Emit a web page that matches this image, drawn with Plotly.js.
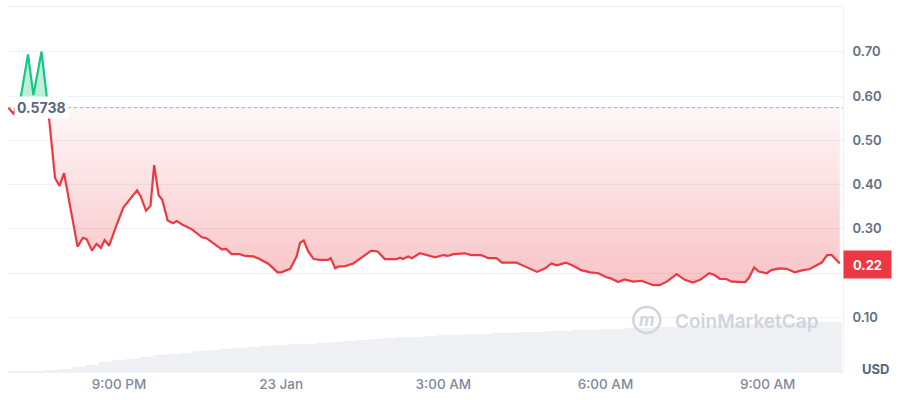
<!DOCTYPE html>
<html>
<head>
<meta charset="utf-8">
<script src="https://cdn.plot.ly/plotly-3.0.1.min.js"></script>
<style>html,body{margin:0;padding:0;background:#fff;}#chart{width:900px;height:400px;}</style>
</head>
<body>
<div id="chart"></div>
<script>
// ---------- data ----------
const startDay = '2025-01-22';
const openPrice = 0.5738;
const lastPrice = 0.22;
const priceClock = ['18:57','19:03','19:11','19:19','19:25','19:34','19:40','19:49','19:54','19:59',
 '20:14','20:20','20:24','20:30','20:35','20:40','20:44','20:49','20:56','21:05',
 '21:20','21:24','21:30','21:35','21:39','21:44','21:48','21:54','22:00','22:04',
 '22:10','22:21','22:32','22:37','22:54','22:59','23:05','23:14','23:20','23:29',
 '23:36','23:46','23:56','00:00','00:10','00:17','00:21','00:25','00:30','00:36',
 '00:43','00:52','00:55','01:00','01:03','01:11','01:20','01:31','01:40','01:47',
 '01:55','02:08','02:12','02:15','02:21','02:25','02:34','02:51','03:00','03:05',
 '03:11','03:24','03:31','03:42','03:50','03:59','04:05','04:21','04:30','04:44',
 '04:53','05:00','05:06','05:16','05:24','05:33','05:43','05:52','06:01','06:05',
 '06:14','06:21','06:31','06:40','06:53','07:00','07:08','07:19','07:28','07:37',
 '07:45','07:55','08:01','08:07','08:14','08:20','08:35','08:39','08:45','08:50',
 '08:59','09:04','09:13','09:21','09:30','09:39','09:46','10:00','10:06','10:11','10:20'];
const priceValues = [0.5738,0.560,0.598,0.694,0.602,0.700,0.598,0.415,0.397,0.426,
 0.260,0.280,0.277,0.251,0.266,0.257,0.275,0.262,0.302,0.349,
 0.387,0.374,0.341,0.352,0.444,0.376,0.366,0.319,0.313,0.318,
 0.310,0.299,0.281,0.279,0.254,0.255,0.243,0.243,0.239,0.238,
 0.232,0.221,0.202,0.202,0.210,0.237,0.269,0.274,0.249,0.232,
 0.230,0.230,0.234,0.211,0.215,0.216,0.222,0.238,0.251,0.249,
 0.232,0.232,0.235,0.232,0.238,0.234,0.245,0.236,0.241,0.239,
 0.243,0.245,0.241,0.241,0.234,0.234,0.224,0.224,0.216,0.203,
 0.211,0.222,0.218,0.224,0.217,0.207,0.202,0.200,0.191,0.189,
 0.180,0.186,0.181,0.183,0.173,0.173,0.181,0.198,0.185,0.179,
 0.185,0.200,0.196,0.187,0.187,0.181,0.180,0.189,0.213,0.204,
 0.200,0.207,0.211,0.210,0.202,0.207,0.209,0.224,0.241,0.241,0.222];
const volumeStart = '2025-01-22T19:00:00Z';
const volumeStepMin = 15;
const volumeValues = [1,1,1.5,2.5,3.5,5,7.5,10,12,13.5,15.5,17,18.5,19.5,21,22,23,24,25,26,
 27,28,28.5,29.5,30.5,31.5,32.5,33.5,34.5,35,35.5,36.5,37,37.5,38,38.5,39,39.5,40,40.5,
 41,41.5,42,42.5,43,43.5,44,44.5,45,45.5,46,46.5,47,47.5,48,48.5,49,49,49.5,50,50,50.5];
const xTickVals = ['2025-01-22 21:00','2025-01-23 00:00','2025-01-23 03:00','2025-01-23 06:00','2025-01-23 09:00'];
const xTickText = ['9:00 PM','23 Jan','3:00 AM','6:00 AM','9:00 AM'];
const yTickVals = [0.1,0.2,0.3,0.4,0.5,0.6,0.7];
const yTickText = ['0.10','','0.30','0.40','0.50','0.60','0.70']; // 0.20 is hidden under the price tag
const xRange = ['2025-01-22 18:56:48','2025-01-23 10:23:36'];
const yRange = [-0.023, 0.801];

// ---------- build ----------
const RED = '#ea3943', GREEN = '#16c784';
let day = Date.parse(startDay + 'T00:00:00Z'), prev = -1;
const t = priceClock.map(c => {
  const [h, m] = c.split(':').map(Number);
  const mins = h * 60 + m;
  if (prev >= 0 && mins < prev) day += 86400000;
  prev = mins;
  return day + mins * 60000;
});
// insert crossing points with the open price line
const X = [], Y = [];
for (let i = 0; i < t.length; i++) {
  if (i > 0) {
    const a = priceValues[i-1] - openPrice, b = priceValues[i] - openPrice;
    if (a * b < 0) {
      const f = a / (a - b);
      X.push(t[i-1] + f * (t[i] - t[i-1])); Y.push(openPrice);
    }
  }
  X.push(t[i]); Y.push(priceValues[i]);
}
const eps = 1e-9;
const redLine = Y.map(v => v <= openPrice + eps ? v : null);
const redPolyX = X.concat([X[X.length-1], X[0]]);
const redPolyY = Y.map(v => Math.min(v, openPrice)).concat([openPrice, openPrice]);
// green part is drawn on an axis whose zero sits at the open price
const greenAbove = Y.map(v => Math.max(v - openPrice, 0));
const greenLineRel = Y.map(v => v >= openPrice - eps ? v - openPrice : null);
const yRangeRel = [yRange[0] - openPrice, yRange[1] - openPrice];

const vt0 = Date.parse(volumeStart);
const volX = volumeValues.map((_, i) => vt0 + i * volumeStepMin * 60000);

const traces = [
  {type:'bar', x: volX, y: volumeValues, yaxis:'y', marker:{color:'#eef0f4', line:{width:0}}, hoverinfo:'skip', width: volumeStepMin*60000},
  {type:'scatter', mode:'lines', x: redPolyX, y: redPolyY, yaxis:'y2', line:{width:0, color:RED}, fill:'toself',
   fillcolor:'rgba(234,57,67,0.15)',
   fillgradient:{type:'vertical', colorscale:[[0,'rgba(234,57,67,0.30)'],[1,'rgba(234,57,67,0.04)']]}, hoverinfo:'skip'},
  {type:'scatter', mode:'lines', x: X, y: redLine, yaxis:'y2', line:{color:RED, width:2.2}, connectgaps:false},
  {type:'scatter', mode:'lines', x: X, y: greenAbove, yaxis:'y3', line:{width:0.5, color:'rgba(22,199,132,0.3)'}, fill:'tozeroy',
   fillcolor:'rgba(22,199,132,0.28)', hoverinfo:'skip'},
  {type:'scatter', mode:'lines', x: X, y: greenLineRel, yaxis:'y3', line:{color:GREEN, width:2.2}, connectgaps:false}
];

const layout = {
  width: 900, height: 400,
  margin: {l: 8, r: 57, t: 7, b: 28, pad: 0},
  paper_bgcolor: '#ffffff', plot_bgcolor: '#ffffff',
  showlegend: false, bargap: 0,
  font: {family: 'Inter, "Noto Sans", sans-serif', color: '#616e85'},
  xaxis: {type:'date', range: xRange, tickvals: xTickVals, ticktext: xTickText, showgrid:false,
          showline:true, linecolor:'#eff2f5', linewidth:1, mirror:true, ticks:'', zeroline:false,
          tickfont:{size:13.5, color:'#808a9d', weight:500}},
  yaxis: {range:[0, 365], visible:false, fixedrange:true},
  yaxis2: {overlaying:'y', side:'right', range: yRange, tickvals: yTickVals, ticktext: yTickText,
           showgrid:true, gridcolor:'#eff2f5', zeroline:false, showline:true, linecolor:'#eff2f5',
           ticks:'', tickfont:{size:13, color:'#616e85', weight:600}, ticklabelstandoff: 6},
  yaxis3: {overlaying:'y', side:'right', range: yRangeRel, visible:false, showgrid:false, zeroline:false},
  shapes: [
    {type:'line', xref:'paper', x0:0, x1:1, yref:'y2', y0:openPrice, y1:openPrice,
     line:{color:'#a6b0c3', width:1, dash:'dot'}},
    {type:'circle', xref:'paper', yref:'paper', xsizemode:'pixel', ysizemode:'pixel',
     xanchor:0.765, yanchor:0.1425, x0:-13.5, x1:13.5, y0:-13, y1:13, line:{color:'#d0d5de', width:2.5}}
  ],
  annotations: [
    {xref:'paper', x:0, xanchor:'left', xshift:6, yref:'y2', y:openPrice, yanchor:'middle',
     text:'<b>' + openPrice.toFixed(4) + '</b>', showarrow:false, bgcolor:'#ffffff', borderpad:2,
     font:{size:14, color:'#58667e'}},
    {xref:'paper', x:1, xanchor:'left', xshift:0, yref:'y2', y:lastPrice, yanchor:'middle',
     text:'<b>' + lastPrice.toFixed(2) + '</b>', showarrow:false, bgcolor:RED, width:45, height:25,
     font:{size:13, color:'#ffffff'}},
    {xref:'paper', x:1, xanchor:'left', xshift:17, yref:'paper', y:0, yanchor:'middle', yshift:3,
     text:'<b>USD</b>', showarrow:false, font:{size:13, color:'#58667e'}},
    {xref:'paper', x:0.765, xanchor:'center', yref:'paper', y:0.1425, yanchor:'middle',
     text:'<b><i>m</i></b>', showarrow:false, font:{size:17, color:'#d0d5de'}},
    {xref:'paper', x:0.796, xanchor:'left', yref:'paper', y:0.138, yanchor:'middle',
     text:'CoinMarketCap', showarrow:false, font:{size:19, color:'#cfd5de', weight:600}}
  ]
};

Plotly.newPlot('chart', traces, layout, {displayModeBar:false, staticPlot:true});
</script>
</body>
</html>
